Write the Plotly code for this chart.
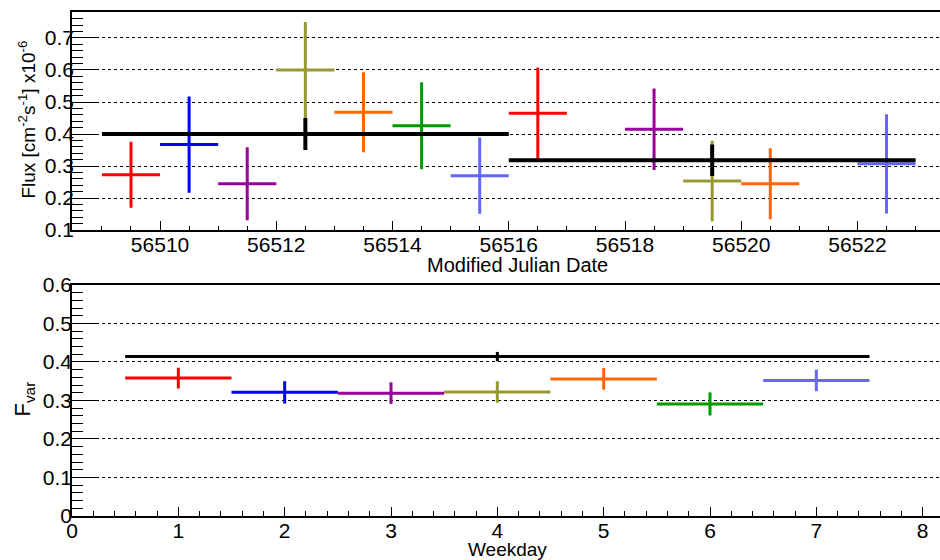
import plotly.graph_objects as go

# ---------------- data ----------------
# Top panel: daily flux points (MJD centre, half-width, flux, error)
mjd = [56509.5, 56510.5, 56511.5, 56512.5, 56513.5, 56514.5, 56515.5,
       56516.5, 56518.5, 56519.5, 56520.5, 56522.5]
flux = [0.273, 0.367, 0.245, 0.600, 0.468, 0.426, 0.270,
        0.465, 0.415, 0.253, 0.245, 0.307]
flux_err = [0.103, 0.150, 0.114, 0.150, 0.125, 0.136, 0.119,
            0.143, 0.127, 0.126, 0.111, 0.155]
day_colors = ["#ff0000", "#0000ff", "#990099", "#999933", "#ff6600", "#009900", "#6666ff",
              "#ff0000", "#990099", "#999933", "#ff6600", "#6666ff"]
day_halfwidth = 0.5

# Weekly averages (black)
week_mjd = [56512.5, 56519.5]
week_halfwidth = [3.5, 3.5]
week_flux = [0.400, 0.318]
week_err = [0.050, 0.049]

# Bottom panel: Fvar per weekday
weekday = [1, 2, 3, 4, 5, 6, 7]
fvar = [0.358, 0.321, 0.319, 0.322, 0.356, 0.291, 0.352]
fvar_err = [0.027, 0.029, 0.028, 0.028, 0.028, 0.030, 0.028]
weekday_colors = ["#ff0000", "#0000ff", "#990099", "#999933", "#ff6600", "#009900", "#6666ff"]
all_x = [4]
all_halfwidth = [3.5]
all_fvar = [0.414]
all_err = [0.012]

top_ticks = [56510, 56512, 56514, 56516, 56518, 56520, 56522]

# ---------------- figure ----------------
fig = go.Figure()

for i in range(len(mjd)):
    fig.add_trace(go.Scatter(
        x=[mjd[i]], y=[flux[i]], mode="markers",
        marker=dict(size=1, color=day_colors[i], opacity=0),
        error_x=dict(type="data", array=[day_halfwidth], width=0, thickness=3, color=day_colors[i]),
        error_y=dict(type="data", array=[flux_err[i]], width=0, thickness=3, color=day_colors[i]),
        xaxis="x", yaxis="y", showlegend=False, hoverinfo="skip"))

fig.add_trace(go.Scatter(
    x=week_mjd, y=week_flux, mode="markers",
    marker=dict(size=1, color="black", opacity=0),
    error_x=dict(type="data", array=week_halfwidth, width=0, thickness=4, color="black"),
    error_y=dict(type="data", array=week_err, width=0, thickness=4, color="black"),
    xaxis="x", yaxis="y", showlegend=False, hoverinfo="skip"))

fig.add_trace(go.Scatter(
    x=all_x, y=all_fvar, mode="markers",
    marker=dict(size=1, color="black", opacity=0),
    error_x=dict(type="data", array=all_halfwidth, width=0, thickness=3, color="black"),
    error_y=dict(type="data", array=all_err, width=0, thickness=3, color="black"),
    xaxis="x2", yaxis="y2", showlegend=False, hoverinfo="skip"))

for i in range(len(weekday)):
    fig.add_trace(go.Scatter(
        x=[weekday[i]], y=[fvar[i]], mode="markers",
        marker=dict(size=1, color=weekday_colors[i], opacity=0),
        error_x=dict(type="data", array=[0.5], width=0, thickness=3, color=weekday_colors[i]),
        error_y=dict(type="data", array=[fvar_err[i]], width=0, thickness=3, color=weekday_colors[i]),
        xaxis="x2", yaxis="y2", showlegend=False, hoverinfo="skip"))

font_family = "Liberation Sans, Arial, Helvetica, sans-serif"
tickfont = dict(family=font_family, size=21, color="black")

common_x = dict(showline=True, linecolor="black", linewidth=1.5, mirror=True,
                ticks="inside", tickcolor="black", tickwidth=1.2, ticklen=9,
                ticklabelstandoff=-5,
                showgrid=False, zeroline=False, tickfont=tickfont)
common_y = dict(showline=True, linecolor="black", linewidth=1.5, mirror=False,
                ticks="inside", tickcolor="black", tickwidth=1.2, ticklen=24,
                showgrid=True, gridcolor="black", gridwidth=1, griddash="dot",
                zeroline=False, tickfont=tickfont)

fig.update_layout(
    width=940, height=560,
    margin=dict(l=72, r=0, t=10, b=44),
    paper_bgcolor="white", plot_bgcolor="white",
    xaxis=dict(domain=[0, 1], anchor="y", range=[56508.485, 56523.42],
               tickmode="array", tickvals=top_ticks, ticktext=[str(t) for t in top_ticks],
               minor=dict(dtick=0.5, tick0=56508, ticks="inside", ticklen=4, tickcolor="black", tickwidth=1),
               **common_x),
    yaxis=dict(domain=[0.5672, 1.0], anchor="x", range=[0.1, 0.781],
               tickmode="linear", tick0=0.1, dtick=0.1, ticklabelstandoff=-8,
               minor=dict(dtick=0.02, tick0=0.1, ticks="inside", ticklen=11, tickcolor="black", tickwidth=1, showgrid=False),
               **common_y),
    xaxis2=dict(domain=[0, 1], anchor="y2", range=[0, 8.163],
                tickmode="linear", tick0=0, dtick=1,
                minor=dict(dtick=0.2, tick0=0, ticks="inside", ticklen=5, tickcolor="black", tickwidth=1),
                **common_x),
    yaxis2=dict(domain=[0, 0.4585], anchor="x2", range=[0, 0.6],
                tickmode="linear", tick0=0, dtick=0.1, ticklabelstandoff=-6,
                minor=dict(dtick=0.02, tick0=0, ticks="inside", ticklen=11, tickcolor="black", tickwidth=1, showgrid=False),
                **common_y),
    annotations=[
        dict(text="Modified Julian Date", x=0.5138, y=0.499, xref="paper", yref="paper",
             xanchor="center", yanchor="middle",
             showarrow=False, font=dict(family=font_family, size=20, color="black")),
        dict(text="Weekday", x=0.502, y=-0.067, xref="paper", yref="paper",
             xanchor="center", yanchor="middle",
             showarrow=False, font=dict(family=font_family, size=19, color="black")),
        dict(text="Flux [cm<sup>-2</sup>s<sup>-1</sup>] x10<sup>-6</sup>", x=-0.0518, y=0.7866,
             xref="paper", yref="paper", textangle=-90, showarrow=False,
             xanchor="center", yanchor="middle",
             font=dict(family=font_family, size=19, color="black")),
        dict(text="F<sub>var</sub>", x=-0.0553, y=0.233, xref="paper", yref="paper",
             textangle=-90, showarrow=False, xanchor="center", yanchor="middle",
             font=dict(family=font_family, size=22, color="black")),
    ],
)

fig.write_html("out.html")
